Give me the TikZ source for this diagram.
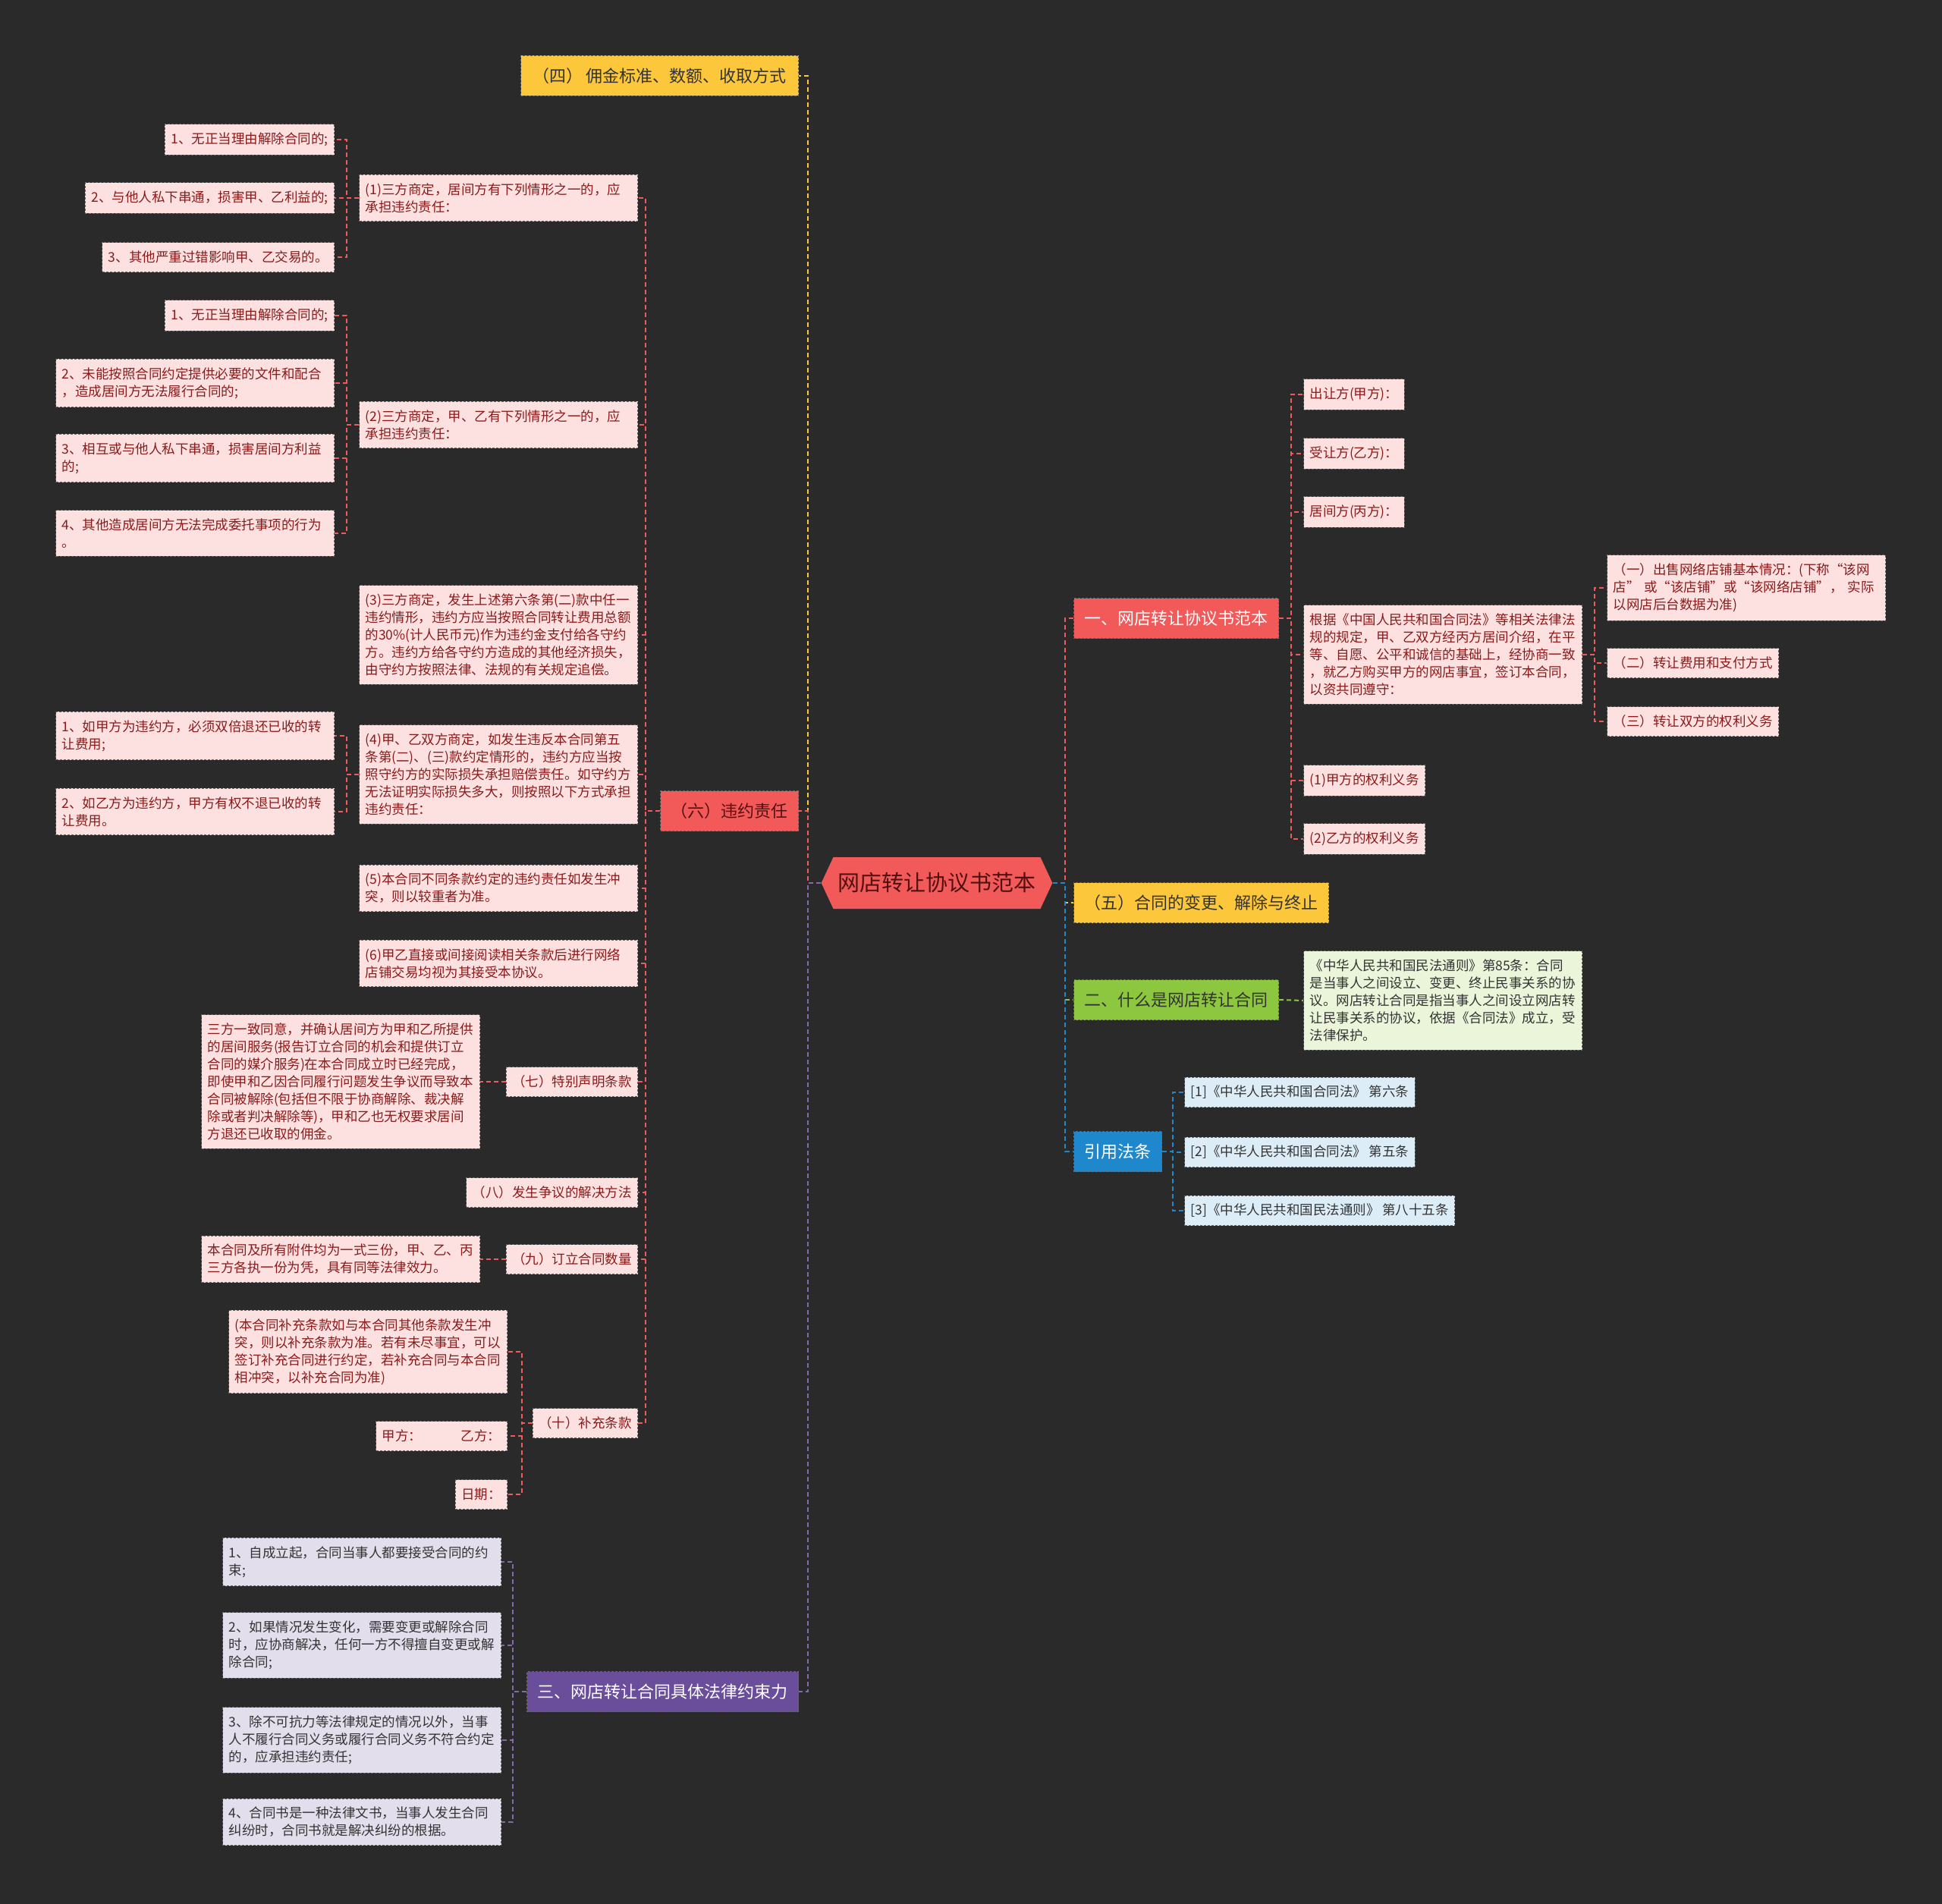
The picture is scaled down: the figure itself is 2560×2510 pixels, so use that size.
\documentclass[tikz,border=0pt]{standalone}
\usepackage{fontspec}
\setmainfont{Noto Sans CJK SC}
\usetikzlibrary{shapes.symbols}

\definecolor{bgdark}{HTML}{2A2A2A}
\definecolor{leafpink}{HTML}{FDE1E1}
\definecolor{leafred}{HTML}{8B1A1A}
\definecolor{lavender}{HTML}{E3DEEC}
\definecolor{paleblue}{HTML}{DCEDF8}
\definecolor{palegreen}{HTML}{EAF5DA}
\definecolor{topred}{HTML}{F25A5A}
\definecolor{topyellow}{HTML}{FCC73A}
\definecolor{toppurple}{HTML}{6B4E9B}
\definecolor{topgreen}{HTML}{8DC63F}
\definecolor{topblue}{HTML}{1F88CC}
\definecolor{darktxt}{HTML}{333333}

\tikzset{
  leaf/.style={draw=black!60, dash pattern=on 3pt off 2pt, line width=1pt,
    fill=leafpink, text=leafred, font=\fontsize{17.5}{23}\selectfont,
    inner xsep=8pt, inner ysep=11pt, align=left, minimum height=39pt},
  wide/.style={text width=351pt},
  lavleaf/.style={leaf, fill=lavender, text=darktxt},
  blueleaf/.style={leaf, fill=paleblue, text=darktxt},
  greenleaf/.style={leaf, fill=palegreen, text=darktxt},
  topic/.style={draw=black!60, dash pattern=on 3pt off 2pt, line width=1pt,
    font=\fontsize{22}{26}\selectfont, inner xsep=14pt, minimum height=53pt},
  link/.style={dash pattern=on 6pt off 4pt, line width=2pt},
  redline/.style={link, draw=topred},
  yelline/.style={link, draw=topyellow},
  purline/.style={link, draw=toppurple!85!white},
  grnline/.style={link, draw=topgreen},
  bluline/.style={link, draw=topblue}
}

\begin{document}
\begin{tikzpicture}[x=1pt,y=-1pt]
\fill[bgdark] (0,0) rectangle (2560,2510);
\useasboundingbox (0,0) rectangle (2560,2510);

% centre
\node[signal, signal to=east and west, signal pointer angle=130, fill=topred,
  text=leafred!60!black, font=\fontsize{29}{32}\selectfont,
  minimum width=299pt, minimum height=68pt, inner xsep=6pt] (ctr) at (1235,1164) {网店转让协议书范本};

% left main topics
\node[topic, fill=topyellow, text=darktxt, minimum width=366pt, anchor=east] (c4) at (1053,100) {（四） 佣金标准、数额、收取方式};
\node[topic, fill=topred, text=leafred!60!black, anchor=east] (c6) at (1053,1069) {（六）违约责任};
\node[topic, fill=toppurple, text=white, anchor=east] (c3) at (1053,2230) {三、网店转让合同具体法律约束力};

% right main topics
\node[topic, fill=topred, text=white, anchor=west] (r1) at (1415,815) {一、网店转让协议书范本};
\node[topic, fill=topyellow, text=darktxt, anchor=west] (r5) at (1415,1190) {（五）合同的变更、解除与终止};
\node[topic, fill=topgreen, text=darktxt, anchor=west] (r2) at (1415,1318) {二、什么是网店转让合同};
\node[topic, fill=topblue, text=white, anchor=west] (rq) at (1415,1518) {引用法条};

% (六) items
\node[leaf, wide, anchor=east] (b1) at (841,261) {(1)三方商定，居间方有下列情形之一的，应\\承担违约责任：};
\node[leaf, wide, anchor=east] (b2) at (841,560) {(2)三方商定，甲、乙有下列情形之一的，应\\承担违约责任：};
\node[leaf, wide, anchor=east] (b3) at (841,837) {(3)三方商定，发生上述第六条第(二)款中任一\\违约情形，违约方应当按照合同转让费用总额\\的30\%(计人民币元)作为违约金支付给各守约\\方。违约方给各守约方造成的其他经济损失，\\由守约方按照法律、法规的有关规定追偿。};
\node[leaf, wide, anchor=east] (b4) at (841,1021) {(4)甲、乙双方商定，如发生违反本合同第五\\条第(二)、(三)款约定情形的，违约方应当按\\照守约方的实际损失承担赔偿责任。如守约方\\无法证明实际损失多大，则按照以下方式承担\\违约责任：};
\node[leaf, wide, anchor=east] (b5) at (841,1171) {(5)本合同不同条款约定的违约责任如发生冲\\突，则以较重者为准。};
\node[leaf, wide, anchor=east] (b6) at (841,1270) {(6)甲乙直接或间接阅读相关条款后进行网络\\店铺交易均视为其接受本协议。};
\node[leaf, anchor=east] (b7) at (841,1426) {（七）特别声明条款};
\node[leaf, anchor=east] (b8) at (841,1572) {（八）发生争议的解决方法};
\node[leaf, anchor=east] (b9) at (841,1660) {（九）订立合同数量};
\node[leaf, anchor=east] (b10) at (841,1876) {（十）补充条款};

% third level, left
\node[leaf, anchor=east] (a11) at (441,184) {1、无正当理由解除合同的;};
\node[leaf, anchor=east] (a12) at (441,261) {2、与他人私下串通，损害甲、乙利益的;};
\node[leaf, anchor=east] (a13) at (441,339) {3、其他严重过错影响甲、乙交易的。};
\node[leaf, anchor=east] (a21) at (441,416) {1、无正当理由解除合同的;};
\node[leaf, wide, anchor=east] (a22) at (441,505) {2、未能按照合同约定提供必要的文件和配合\\，造成居间方无法履行合同的;};
\node[leaf, wide, anchor=east] (a23) at (441,604) {3、相互或与他人私下串通，损害居间方利益\\的;};
\node[leaf, wide, anchor=east] (a24) at (441,703) {4、其他造成居间方无法完成委托事项的行为\\。};
\node[leaf, wide, anchor=east] (a41) at (441,970) {1、如甲方为违约方，必须双倍退还已收的转\\让费用;};
\node[leaf, wide, anchor=east] (a42) at (441,1070) {2、如乙方为违约方，甲方有权不退已收的转\\让费用。};
\node[leaf, wide, anchor=east] (a7) at (633,1426) {三方一致同意，并确认居间方为甲和乙所提供\\的居间服务(报告订立合同的机会和提供订立\\合同的媒介服务)在本合同成立时已经完成，\\即使甲和乙因合同履行问题发生争议而导致本\\合同被解除(包括但不限于协商解除、裁决解\\除或者判决解除等)，甲和乙也无权要求居间\\方退还已收取的佣金。};
\node[leaf, wide, anchor=east] (a9) at (633,1660) {本合同及所有附件均为一式三份，甲、乙、丙\\三方各执一份为凭，具有同等法律效力。};
\node[leaf, wide, anchor=east] (a101) at (669,1782) {(本合同补充条款如与本合同其他条款发生冲\\突，则以补充条款为准。若有未尽事宜，可以\\签订补充合同进行约定，若补充合同与本合同\\相冲突，以补充合同为准)};
\node[leaf, anchor=east] (a102) at (669,1893) {甲方：\hspace{52pt}乙方：};
\node[leaf, anchor=east] (a103) at (669,1970) {日期：};

% 三 items
\node[lavleaf, wide, anchor=east] (p1) at (661,2059) {1、自成立起，合同当事人都要接受合同的约\\束;};
\node[lavleaf, wide, anchor=east] (p2) at (661,2169) {2、如果情况发生变化，需要变更或解除合同\\时，应协商解决，任何一方不得擅自变更或解\\除合同;};
\node[lavleaf, wide, anchor=east] (p3) at (661,2294) {3、除不可抗力等法律规定的情况以外，当事\\人不履行合同义务或履行合同义务不符合约定\\的，应承担违约责任;};
\node[lavleaf, wide, anchor=east] (p4) at (661,2402) {4、合同书是一种法律文书，当事人发生合同\\纠纷时，合同书就是解决纠纷的根据。};

% 一 items
\node[leaf, anchor=west] (s1) at (1718,520) {出让方(甲方)：};
\node[leaf, anchor=west] (s2) at (1718,598) {受让方(乙方)：};
\node[leaf, anchor=west] (s3) at (1718,675) {居间方(丙方)：};
\node[leaf, wide, anchor=west] (s4) at (1718,863) {根据《中国人民共和国合同法》等相关法律法\\规的规定，甲、乙双方经丙方居间介绍，在平\\等、自愿、公平和诚信的基础上，经协商一致\\，就乙方购买甲方的网店事宜，签订本合同，\\以资共同遵守：};
\node[leaf, anchor=west] (s5) at (1718,1029) {(1)甲方的权利义务};
\node[leaf, anchor=west] (s6) at (1718,1106) {(2)乙方的权利义务};
\node[leaf, wide, anchor=west] (t1) at (2118,775) {（一）出售网络店铺基本情况：(下称“该网\\店” 或“该店铺”或“该网络店铺”， 实际\\以网店后台数据为准)};
\node[leaf, anchor=west] (t2) at (2118,874) {（二）转让费用和支付方式};
\node[leaf, anchor=west] (t3) at (2118,951) {（三）转让双方的权利义务};

% 二 and 引用法条 items
\node[greenleaf, wide, anchor=west] (g1) at (1718,1319) {《中华人民共和国民法通则》第85条：合同\\是当事人之间设立、变更、终止民事关系的协\\议。网店转让合同是指当事人之间设立网店转\\让民事关系的协议，依据《合同法》成立，受\\法律保护。};
\node[blueleaf, anchor=west] (q1) at (1561,1440) {[1]《中华人民共和国合同法》 第六条};
\node[blueleaf, anchor=west] (q2) at (1561,1519) {[2]《中华人民共和国合同法》 第五条};
\node[blueleaf, anchor=west] (q3) at (1561,1596) {[3]《中华人民共和国民法通则》 第八十五条};

% connectors
\draw[yelline] (ctr.west) -- ++(-17,0) |- (c4.east);
\draw[redline] (ctr.west) -- ++(-17,0) |- (c6.east);
\draw[purline] (ctr.west) -- ++(-17,0) |- (c3.east);
\draw[redline] (ctr.east) -- ++(16,0) |- (r1.west);
\draw[yelline] (ctr.east) -- ++(16,0) |- (r5.west);
\draw[grnline] (ctr.east) -- ++(16,0) |- (r2.west);
\draw[bluline] (ctr.east) -- ++(16,0) |- (rq.west);

\foreach \n in {b1,b2,b3,b4,b5,b6,b7,b8,b9,b10}
  \draw[redline] (c6.west) -- ++(-19,0) |- (\n.east);
\foreach \n in {a11,a12,a13}
  \draw[redline] (b1.west) -- ++(-16,0) |- (\n.east);
\foreach \n in {a21,a22,a23,a24}
  \draw[redline] (b2.west) -- ++(-16,0) |- (\n.east);
\foreach \n in {a41,a42}
  \draw[redline] (b4.west) -- ++(-16,0) |- (\n.east);
\draw[redline] (b7.west) -- (a7.east);
\draw[redline] (b9.west) -- (a9.east);
\foreach \n in {a101,a102,a103}
  \draw[redline] (b10.west) -- ++(-14,0) |- (\n.east);
\foreach \n in {p1,p2,p3,p4}
  \draw[purline] (c3.west) -- ++(-18,0) |- (\n.east);
\foreach \n in {s1,s2,s3,s4,s5,s6}
  \draw[redline] (r1.east) -- ++(16,0) |- (\n.west);
\foreach \n in {t1,t2,t3}
  \draw[redline] (s4.east) -- ++(16,0) |- (\n.west);
\draw[grnline] (r2.east) -- (g1.west);
\foreach \n in {q1,q2,q3}
  \draw[bluline] (rq.east) -- ++(14,0) |- (\n.west);
\end{tikzpicture}
\end{document}
